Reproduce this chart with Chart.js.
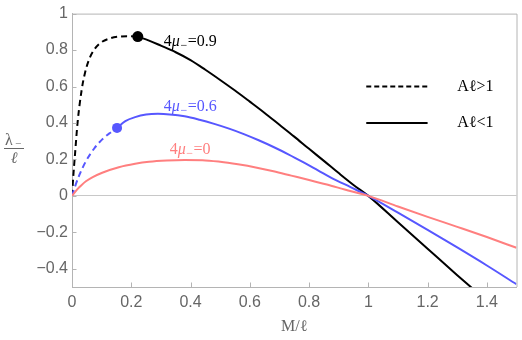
<!DOCTYPE html>
<html>
<head>
<meta charset="utf-8">
<script src="https://cdn.jsdelivr.net/npm/chart.js@4.4.1/dist/chart.umd.min.js"></script>
<style>
  html, body { margin: 0; padding: 0; background: #fff; }
  #wrap { width: 522px; height: 340px; }
</style>
</head>
<body>
<div id="wrap"><canvas id="myChart" width="522" height="340"></canvas></div>
<script>
'use strict';
// tick labels
const xTicks = [0, 0.2, 0.4, 0.6, 0.8, 1, 1.2, 1.4];
const yTicks = [-0.4, -0.2, 0, 0.2, 0.4, 0.6, 0.8, 1];

// 4mu = 0 curve (pink)
const pinkX = [0, 0.01, 0.02, 0.03, 0.047, 0.07, 0.102, 0.158, 0.213, 0.26, 0.32, 0.38, 0.44, 0.5, 0.56, 0.62, 0.68, 0.74, 0.8, 0.86, 0.92, 1.0, 1.1, 1.2, 1.3, 1.4, 1.5];
const pinkY = [0, 0.021, 0.04, 0.056, 0.08, 0.103, 0.127, 0.157, 0.176, 0.187, 0.194, 0.197, 0.196, 0.187, 0.173, 0.156, 0.135, 0.111, 0.087, 0.062, 0.035, 0, -0.058, -0.115, -0.17, -0.226, -0.285];

// 4mu = 0.6 curve (blue), dashed part then solid part
const blueDashX = [0, 0.01, 0.025, 0.047, 0.075, 0.102, 0.128, 0.152];
const blueDashY = [0, 0.05, 0.115, 0.19, 0.26, 0.31, 0.345, 0.373];
const blueX = [0.152, 0.18, 0.213, 0.25, 0.29, 0.33, 0.38, 0.43, 0.48, 0.53, 0.58, 0.63, 0.68, 0.73, 0.78, 0.83, 0.88, 0.94, 1.0, 1.1, 1.2, 1.3, 1.4, 1.5];
const blueY = [0.373, 0.41, 0.432, 0.446, 0.45, 0.447, 0.437, 0.418, 0.395, 0.369, 0.339, 0.305, 0.268, 0.228, 0.185, 0.14, 0.095, 0.048, 0, -0.092, -0.186, -0.283, -0.382, -0.485];

// 4mu = 0.9 curve (black), dashed part then solid part
const blackDashX = [0, 0.004, 0.01, 0.019, 0.033, 0.044, 0.058, 0.074, 0.095, 0.13, 0.16, 0.19, 0.222];
const blackDashY = [0, 0.1, 0.225, 0.405, 0.585, 0.676, 0.75, 0.8, 0.838, 0.865, 0.874, 0.876, 0.874];
const blackX = [0.222, 0.26, 0.3, 0.35, 0.4, 0.45, 0.5, 0.55, 0.6, 0.65, 0.7, 0.75, 0.8, 0.85, 0.9, 0.95, 1.0, 1.1, 1.2, 1.3, 1.36];
const blackY = [0.874, 0.852, 0.824, 0.788, 0.745, 0.692, 0.636, 0.578, 0.517, 0.455, 0.39, 0.325, 0.258, 0.192, 0.125, 0.06, 0, -0.145, -0.29, -0.435, -0.52];

// transition points
const blueDot = [0.152, 0.373];
const blackDot = [0.222, 0.874];

const curveValues = ['0.9', '0.6', '0'];
const legendLabels = ['A\u2113>1', 'A\u2113<1'];

const BLUE = '#5757ff';
const PINK = '#ff7f7f';
const GRAY = '#666666';
const FRAME = '#b4b4b4';

function pts(xs, ys) {
  return xs.map((x, i) => ({ x: x, y: ys[i] }));
}

function lineSet(xs, ys, color, dashed) {
  return {
    data: pts(xs, ys),
    borderColor: color,
    borderWidth: 2,
    borderDash: dashed ? [6, 4] : [],
    pointRadius: 0,
    fill: false,
    cubicInterpolationMode: 'monotone'
  };
}

function dotSet(p, color, r) {
  return {
    data: [{ x: p[0], y: p[1] }],
    showLine: false,
    pointRadius: r,
    pointBackgroundColor: color,
    pointBorderColor: color,
    pointBorderWidth: 0
  };
}

function fmt(v) {
  return String(+v.toFixed(1)).replace('-', '\u2212');
}

// draws "4μ₋=value"
function muLabel(ctx, x, y, value, color) {
  ctx.save();
  ctx.fillStyle = color;
  ctx.textBaseline = 'alphabetic';
  ctx.textAlign = 'left';
  ctx.font = '16px "Liberation Serif"';
  ctx.fillText('4', x, y);
  x += ctx.measureText('4').width;
  ctx.font = 'italic 16px "Liberation Serif"';
  ctx.fillText('\u03bc', x, y);
  x += ctx.measureText('\u03bc').width + 0.5;
  ctx.font = '12px "Liberation Serif"';
  ctx.fillText('\u2212', x, y + 3);
  x += ctx.measureText('\u2212').width + 0.5;
  ctx.font = '16px "Liberation Serif"';
  ctx.fillText('=' + value, x, y);
  ctx.restore();
}

const extras = {
  id: 'extras',
  afterDraw(chart) {
    const ctx = chart.ctx;
    const a = chart.chartArea;
    const xs = chart.scales.x;
    const ys = chart.scales.y;
    ctx.save();
    // frame top/right
    ctx.strokeStyle = FRAME;
    ctx.lineWidth = 1;
    ctx.beginPath();
    ctx.moveTo(a.left, a.top + 0.5);
    ctx.lineTo(a.right + 0.5, a.top + 0.5);
    ctx.lineTo(a.right + 0.5, a.bottom);
    ctx.stroke();
    // inner ticks
    ctx.beginPath();
    xTicks.forEach(v => {
      const px = Math.round(xs.getPixelForValue(v)) + 0.5;
      ctx.moveTo(px, a.bottom);
      ctx.lineTo(px, a.bottom - 4.5);
    });
    yTicks.forEach(v => {
      const py = Math.round(ys.getPixelForValue(v)) + 0.5;
      ctx.moveTo(a.left, py);
      ctx.lineTo(a.left + 4.5, py);
    });
    ctx.stroke();

    // curve labels
    muLabel(ctx, xs.getPixelForValue(0.31), ys.getPixelForValue(0.82), curveValues[0], '#000');
    muLabel(ctx, xs.getPixelForValue(0.31), ys.getPixelForValue(0.465), curveValues[1], BLUE);
    muLabel(ctx, xs.getPixelForValue(0.33), ys.getPixelForValue(0.228), curveValues[2], PINK);

    // legend
    ctx.strokeStyle = '#000';
    ctx.lineWidth = 2;
    const lx0 = xs.getPixelForValue(0.993), lx1 = xs.getPixelForValue(1.2);
    ctx.setLineDash([5, 3]);
    ctx.beginPath();
    ctx.moveTo(lx0, ys.getPixelForValue(0.6));
    ctx.lineTo(lx1, ys.getPixelForValue(0.6));
    ctx.stroke();
    ctx.setLineDash([]);
    ctx.beginPath();
    ctx.moveTo(lx0, ys.getPixelForValue(0.4));
    ctx.lineTo(lx1, ys.getPixelForValue(0.4));
    ctx.stroke();
    ctx.fillStyle = '#000';
    ctx.font = '16px "Liberation Serif"';
    ctx.textBaseline = 'middle';
    ctx.fillText(legendLabels[0], xs.getPixelForValue(1.3), ys.getPixelForValue(0.6));
    ctx.fillText(legendLabels[1], xs.getPixelForValue(1.3), ys.getPixelForValue(0.4));

    // y title: λ₋ over ℓ
    ctx.fillStyle = GRAY;
    ctx.strokeStyle = GRAY;
    ctx.lineWidth = 1;
    ctx.textBaseline = 'alphabetic';
    ctx.font = '16px "Liberation Serif"';
    ctx.fillText('\u03bb', 5, 145);
    ctx.font = '11px "Liberation Serif"';
    ctx.fillText('\u2212', 15, 147);
    ctx.beginPath();
    ctx.moveTo(4, 148.5);
    ctx.lineTo(24, 148.5);
    ctx.stroke();
    ctx.font = 'italic 16px "Liberation Serif"';
    ctx.textAlign = 'center';
    ctx.fillText('\u2113', 14, 163);
    ctx.restore();
  }
};

const ctx = document.getElementById('myChart').getContext('2d');
const chart = new Chart(ctx, {
  type: 'line',
  data: {
    datasets: [
      lineSet(pinkX, pinkY, PINK, false),
      lineSet(blueDashX, blueDashY, BLUE, true),
      lineSet(blueX, blueY, BLUE, false),
      lineSet(blackDashX, blackDashY, '#000', true),
      lineSet(blackX, blackY, '#000', false),
      dotSet(blueDot, BLUE, 5),
      dotSet(blackDot, '#000', 5.5)
    ]
  },
  options: {
    responsive: false,
    animation: false,
    devicePixelRatio: 1,
    layout: { padding: { top: 10, right: 2, left: 0, bottom: 0 } },
    plugins: { legend: { display: false }, tooltip: { enabled: false } },
    scales: {
      x: {
        type: 'linear',
        min: 0,
        max: 1.5,
        afterBuildTicks: s => { s.ticks = xTicks.map(v => ({ value: v })); },
        afterFit: s => { s.height = 53; },
        grid: { drawOnChartArea: false, drawTicks: false },
        border: { display: true, color: FRAME, width: 1 },
        ticks: { color: GRAY, font: { family: '"Liberation Sans"', size: 16 }, padding: 6, callback: v => fmt(v), maxRotation: 0, autoSkip: false },
        title: { display: true, text: 'M/\u2113', color: GRAY, font: { family: '"Liberation Serif"', size: 16 }, padding: { top: 4, bottom: 4 } }
      },
      y: {
        type: 'linear',
        min: -0.5,
        max: 1,
        afterBuildTicks: s => { s.ticks = yTicks.map(v => ({ value: v })); },
        afterFit: s => { s.width = 72; },
        grid: {
          drawTicks: false,
          color: c => (c.tick && Math.abs(c.tick.value) < 1e-9) ? '#c8c8c8' : 'rgba(0,0,0,0)',
          lineWidth: 1
        },
        border: { display: true, color: FRAME, width: 1 },
        ticks: { color: GRAY, font: { family: '"Liberation Sans"', size: 16 }, padding: 4, callback: v => fmt(v), autoSkip: false }
      }
    }
  },
  plugins: [extras]
});
</script>
</body>
</html>
